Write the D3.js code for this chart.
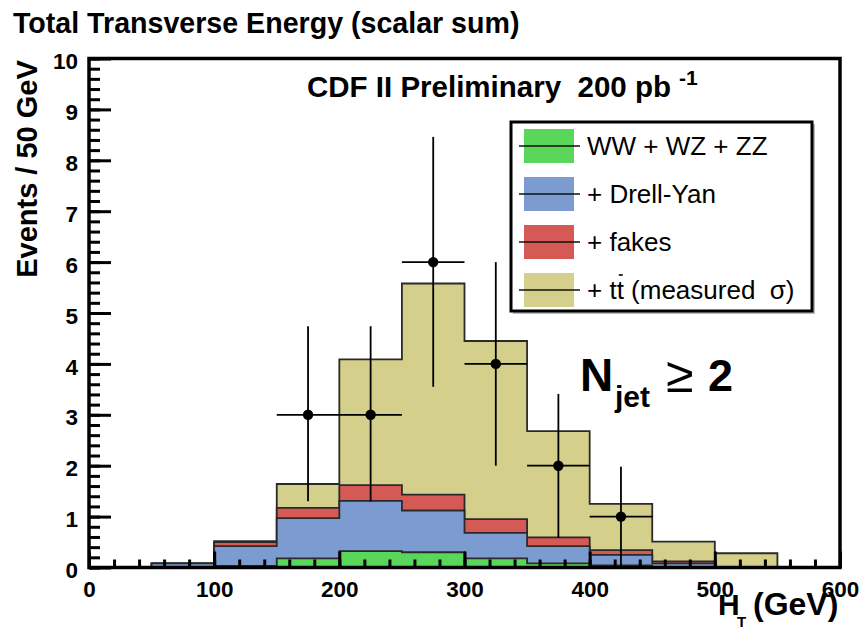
<!DOCTYPE html>
<html>
<head>
<meta charset="utf-8">
<script src="https://cdn.jsdelivr.net/npm/d3@7"></script>
<style>
  body { margin: 0; background: #fff; }
  svg { display: block; }
  text { font-family: "Liberation Sans", Arial, Helvetica, sans-serif; }
  .b { font-weight: bold; }
</style>
</head>
<body>
<div id="chart"></div>
<script>
"use strict";
// bin lower edges (GeV), each bin 50 GeV wide
var binEdges = [50, 100, 150, 200, 250, 300, 350, 400, 450, 500];
var binWidth = 50;
// per-process contributions, stacked in this order
var diboson = [0.00, 0.03, 0.18, 0.32, 0.30, 0.18, 0.08, 0.04, 0.01, 0.00];
var drellYan = [0.08, 0.39, 0.79, 0.99, 0.82, 0.50, 0.34, 0.21, 0.07, 0.00];
var fakes = [0.00, 0.08, 0.20, 0.31, 0.31, 0.27, 0.17, 0.09, 0.04, 0.00];
var ttbar = [0.00, 0.02, 0.47, 2.47, 4.15, 3.50, 2.09, 0.91, 0.39, 0.28];

// observed data
var dataX = [175, 225, 275, 325, 375, 425];
var dataY = [3, 3, 6, 4, 2, 1];
var dataLo = [1.3, 1.3, 3.55, 2.0, 0.58, 0.0];
var dataHi = [4.74, 4.74, 8.46, 6.0, 3.41, 1.98];

var seriesKeys = ["ww", "dy", "fakes", "tt"];
var seriesLabels = ["WW + WZ + ZZ", "+ Drell-Yan", "+ fakes", "+ tt (measured  \u03c3)"];
var seriesColors = ["#5ad65a", "#7b9bd1", "#d55a55", "#d4cf8a"];

var xTicks = [0, 100, 200, 300, 400, 500, 600];
var yTicks = [0, 1, 2, 3, 4, 5, 6, 7, 8, 9, 10];

var W = 862, H = 627;
var svg = d3.select("#chart").append("svg")
  .attr("width", W)
  .attr("height", H);

var x = d3.scaleLinear().domain([0, 600]).range([89, 840]);
var y = d3.scaleLinear().domain([0, 10]).range([567.5, 58.5]);

var table = binEdges.map(function(e, i) {
  return { lo: e, ww: diboson[i], dy: drellYan[i], fakes: fakes[i], tt: ttbar[i] };
});
var stacked = d3.stack().keys(seriesKeys)(table);

// step outline from 0 up to the cumulative top of a layer
function stepPath(layer) {
  var pts = [[binEdges[0], 0]];
  layer.forEach(function(d) {
    pts.push([d.data.lo, d[1]]);
    pts.push([d.data.lo + binWidth, d[1]]);
  });
  pts.push([binEdges[binEdges.length - 1] + binWidth, 0]);
  return d3.line()
    .x(function(p) { return x(p[0]); })
    .y(function(p) { return y(p[1]); })(pts) + "Z";
}

var hist = svg.append("g");
// biggest first, so smaller ones land on top
stacked.slice().reverse().forEach(function(layer) {
  hist.append("path")
    .attr("d", stepPath(layer))
    .attr("fill", seriesColors[layer.index])
    .attr("stroke", "#2a2a2a")
    .attr("stroke-width", 1.8);
});

// data points with error bars
var pts = svg.append("g");
dataX.forEach(function(cx, i) {
  pts.append("line")
    .attr("x1", x(cx)).attr("x2", x(cx))
    .attr("y1", y(dataLo[i])).attr("y2", y(dataHi[i]))
    .attr("stroke", "#000").attr("stroke-width", 1.8);
  pts.append("line")
    .attr("x1", x(cx - binWidth / 2)).attr("x2", x(cx + binWidth / 2))
    .attr("y1", y(dataY[i])).attr("y2", y(dataY[i]))
    .attr("stroke", "#000").attr("stroke-width", 1.8);
  pts.append("circle")
    .attr("cx", x(cx)).attr("cy", y(dataY[i]))
    .attr("r", 5.2).attr("fill", "#000");
});

// axes: ticks drawn inward
var minorY = d3.range(0, 10.001, 0.2);
var minorX = d3.range(0, 600.001, 20);

var gyMinor = svg.append("g").attr("transform", "translate(" + x(0) + ",0)")
  .call(d3.axisLeft(y).tickValues(minorY).tickSize(-11).tickFormat(""));
var gy = svg.append("g").attr("transform", "translate(" + x(0) + ",0)")
  .call(d3.axisLeft(y).tickValues(yTicks).tickSize(-22).tickPadding(11).tickFormat(d3.format("d")));
var gxMinor = svg.append("g").attr("transform", "translate(0," + y(0) + ")")
  .call(d3.axisBottom(x).tickValues(minorX).tickSize(-8).tickFormat(""));
var gx = svg.append("g").attr("transform", "translate(0," + y(0) + ")")
  .call(d3.axisBottom(x).tickValues(xTicks).tickSize(-16).tickPadding(14).tickFormat(d3.format("d")));

[gyMinor, gy, gxMinor, gx].forEach(function(g) {
  g.select(".domain").remove();
  g.selectAll(".tick line").attr("stroke", "#000").attr("stroke-width", 3);
  g.selectAll(".tick text")
    .attr("fill", "#000")
    .style("font-family", "\"Liberation Sans\", Arial, sans-serif")
    .style("font-weight", "bold")
    .style("font-size", "22.5px");
});
gy.selectAll(".tick text").attr("dy", "0.45em");

// frame
svg.append("rect")
  .attr("x", x(0)).attr("y", y(10))
  .attr("width", x(600) - x(0)).attr("height", y(0) - y(10))
  .attr("fill", "none").attr("stroke", "#000").attr("stroke-width", 3.5);

// legend
var leg = svg.append("g");
leg.append("rect")
  .attr("x", 513).attr("y", 124).attr("width", 302).attr("height", 190)
  .attr("fill", "#bbb");
leg.append("rect")
  .attr("x", 511).attr("y", 122).attr("width", 301).attr("height", 189)
  .attr("fill", "#fff").attr("stroke", "#000").attr("stroke-width", 3);

var rowY = [146, 194, 242, 290];
seriesLabels.forEach(function(lab, i) {
  var cy = rowY[i];
  leg.append("rect")
    .attr("x", 524).attr("y", cy - 17).attr("width", 50).attr("height", 34)
    .attr("fill", seriesColors[i]);
  leg.append("line")
    .attr("x1", 519).attr("x2", 580).attr("y1", cy).attr("y2", cy)
    .attr("stroke", "#111").attr("stroke-width", 1.6);
  var t = leg.append("text")
    .attr("x", 587).attr("y", cy + 8.5)
    .style("font-size", "26px")
    .style("white-space", "pre")
    .text(lab);
  if (i === 3) {
    // bar over the second t of t-tbar
    var ext = t.node().getExtentOfChar(3);
    leg.append("line")
      .attr("x1", ext.x + ext.width * 0.3).attr("x2", ext.x + ext.width * 0.85)
      .attr("y1", cy - 15).attr("y2", cy - 15)
      .attr("stroke", "#000").attr("stroke-width", 1.6);
  }
});

// texts
svg.append("text").attr("class", "b")
  .attr("x", 13).attr("y", 33)
  .style("font-size", "28.6px")
  .text("Total Transverse Energy (scalar sum)");

svg.append("text").attr("class", "b")
  .attr("transform", "translate(37,169) rotate(-90)")
  .attr("text-anchor", "middle")
  .style("font-size", "29px")
  .text("Events / 50 GeV");

svg.append("text").attr("class", "b")
  .attr("x", 307).attr("y", 97)
  .style("font-size", "29.5px")
  .style("white-space", "pre")
  .text("CDF II Preliminary  200 pb");
svg.append("text").attr("class", "b")
  .attr("x", 679).attr("y", 85)
  .style("font-size", "21px")
  .text("-1");

svg.append("text").attr("class", "b")
  .attr("x", 580).attr("y", 391)
  .style("font-size", "46px")
  .text("N");
svg.append("text").attr("class", "b")
  .attr("x", 615).attr("y", 407)
  .style("font-size", "30px")
  .text("jet");
svg.append("text")
  .attr("x", 666).attr("y", 392)
  .style("font-size", "50px")
  .text("\u2265");
svg.append("text").attr("class", "b")
  .attr("x", 708).attr("y", 391)
  .style("font-size", "45px")
  .text("2");

svg.append("text").attr("class", "b")
  .attr("x", 718).attr("y", 615)
  .style("font-size", "30px")
  .text("H");
svg.append("text").attr("class", "b")
  .attr("x", 737).attr("y", 627)
  .style("font-size", "15px")
  .text("T");
svg.append("text").attr("class", "b")
  .attr("x", 753).attr("y", 615)
  .style("font-size", "32px")
  .text("(GeV)");
</script>
</body>
</html>
